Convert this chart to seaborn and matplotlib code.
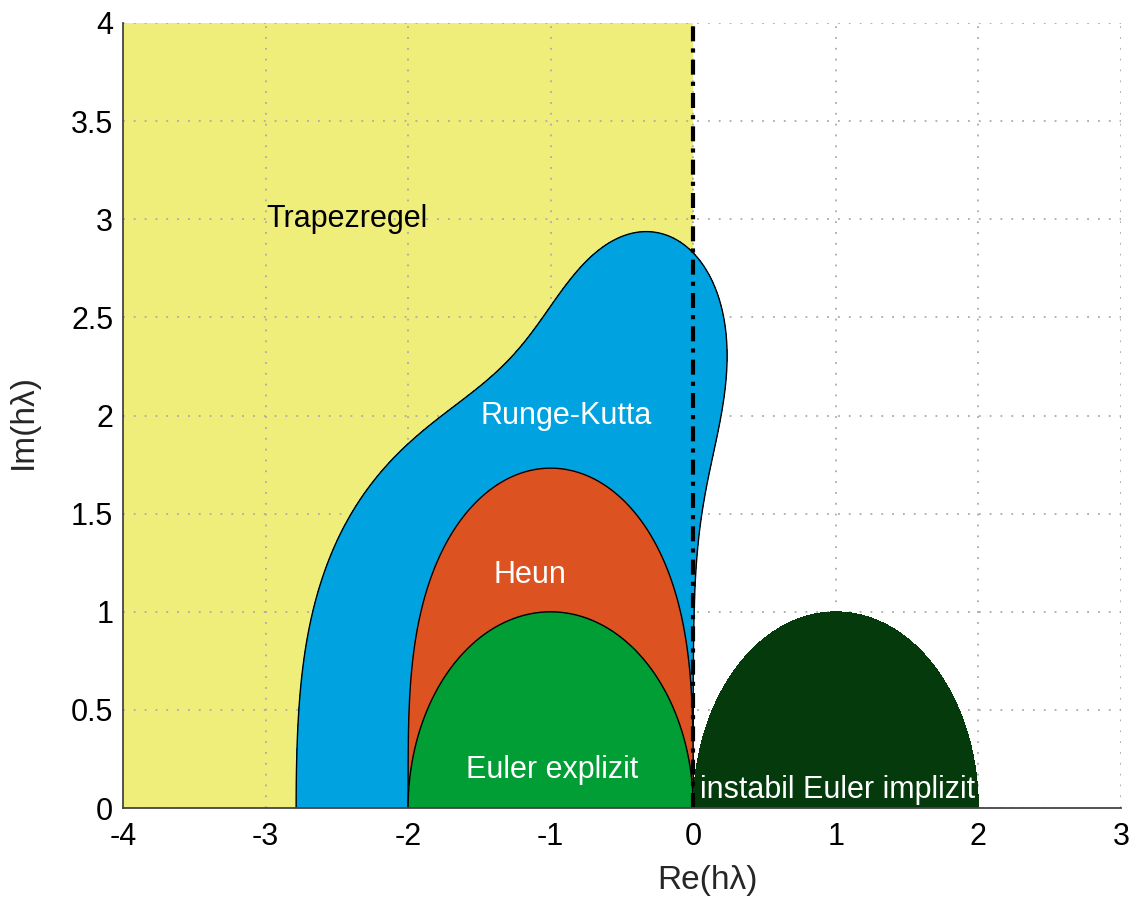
import numpy as np
import seaborn as sns
import matplotlib
matplotlib.use("Agg")
import matplotlib.pyplot as plt

# stability polynomials R(z) = sum c_k z^k (coefficients in increasing order)
euler_coeffs = [1, 1]
heun_coeffs = [1, 1, 1 / 2]
rk4_coeffs = [1, 1, 1 / 2, 1 / 6, 1 / 24]
# implicit Euler: R(z) = 1 / (1 - z), unstable where |1 - z| < 1
impl_denom_coeffs = [1, -1]

region_names = ["Runge-Kutta", "Heun", "Euler explizit"]
region_colors = ["#00a3e0", "#dc5220", "#009e35"]
trapez_color = "#efee7a"
implicit_color = "#053b0c"

x_ticks = [-4, -3, -2, -1, 0, 1, 2, 3]
y_ticks = [0, 0.5, 1, 1.5, 2, 2.5, 3, 3.5, 4]

sns.set_theme(style="white")
plt.rcParams['font.family'] = ['Liberation Sans', 'DejaVu Sans']
plt.rcParams['axes.unicode_minus'] = False

fig = plt.figure(figsize=(11.3, 9.08), dpi=100)
ax = fig.add_axes([0.1088, 0.110, 0.8832, 0.8647])

xs = np.linspace(-4, 3, 1600)
ys = np.linspace(-0.02, 4, 900)
X, Y = np.meshgrid(xs, ys)
Z = X + 1j * Y


def poly_abs(coeffs):
    return np.abs(np.polynomial.polynomial.polyval(Z, coeffs))


# Trapezregel: whole left half plane
ax.fill_between([-4, 0], 0, 4, color=trapez_color, zorder=0.2, linewidth=0)

for coeffs, col, z in zip([rk4_coeffs, heun_coeffs, euler_coeffs], region_colors, [1.0, 1.1, 1.2]):
    A = poly_abs(coeffs)
    ax.contourf(X, Y, A, levels=[0, 1], colors=[col], zorder=z)
    ax.contour(X, Y, A, levels=[1], colors="black", linewidths=1.0, zorder=z + 0.05)

A = poly_abs(impl_denom_coeffs)
ax.contourf(X, Y, A, levels=[0, 1], colors=[implicit_color], zorder=1.3)

# imaginary axis: boundary of the trapezoidal rule region
sns.lineplot(x=[0, 0], y=[0, 4], estimator=None, sort=False, color="black", lw=3,
             linestyle=(0, (3.6, 1.7, 1, 1.7)), ax=ax, zorder=3)

fs = 22
ax.text(-2.43, 3.0, "Trapezregel", fontsize=fs, color="black", ha="center", va="center", zorder=4)
ax.text(-0.89, 2.0, "Runge-Kutta", fontsize=fs, color="white", ha="center", va="center", zorder=4)
ax.text(-1.147, 1.19, "Heun", fontsize=fs, color="white", ha="center", va="center", zorder=4)
ax.text(-0.99, 0.195, "Euler explizit", fontsize=fs, color="white", ha="center", va="center", zorder=4)
ax.text(0.045, 0.092, "instabil Euler implizit", fontsize=fs, color="white", ha="left", va="center", zorder=4)

ax.set_xlim(-4, 3)
ax.set_ylim(0, 4)
ax.set_xticks(x_ticks)
ax.set_yticks(y_ticks)
ax.set_xticklabels([f"{t:g}" for t in x_ticks])
ax.set_yticklabels([f"{t:g}" for t in y_ticks])
ax.tick_params(direction="in", length=7, width=1, colors="#333333", labelsize=22,
               labelcolor="black")
ax.tick_params(axis="x", pad=10)
ax.tick_params(axis="y", pad=7)
ax.set_axisbelow(True)
ax.grid(True, color="#aaaaaa", linestyle=(0, (1, 5)), linewidth=1.3)

for s in ["top", "right"]:
    ax.spines[s].set_visible(False)
for s in ["bottom", "left"]:
    ax.spines[s].set_color("#444444")
    ax.spines[s].set_linewidth(1.3)
    ax.spines[s].set_zorder(5)

ax.set_xlabel("Re(h\u03bb)", fontsize=24)
ax.set_ylabel("Im(h\u03bb)", fontsize=24)
ax.xaxis.set_label_coords(0.586, -0.072)
ax.yaxis.set_label_coords(-0.084, 0.493)

fig.savefig("out.png", dpi=100)
